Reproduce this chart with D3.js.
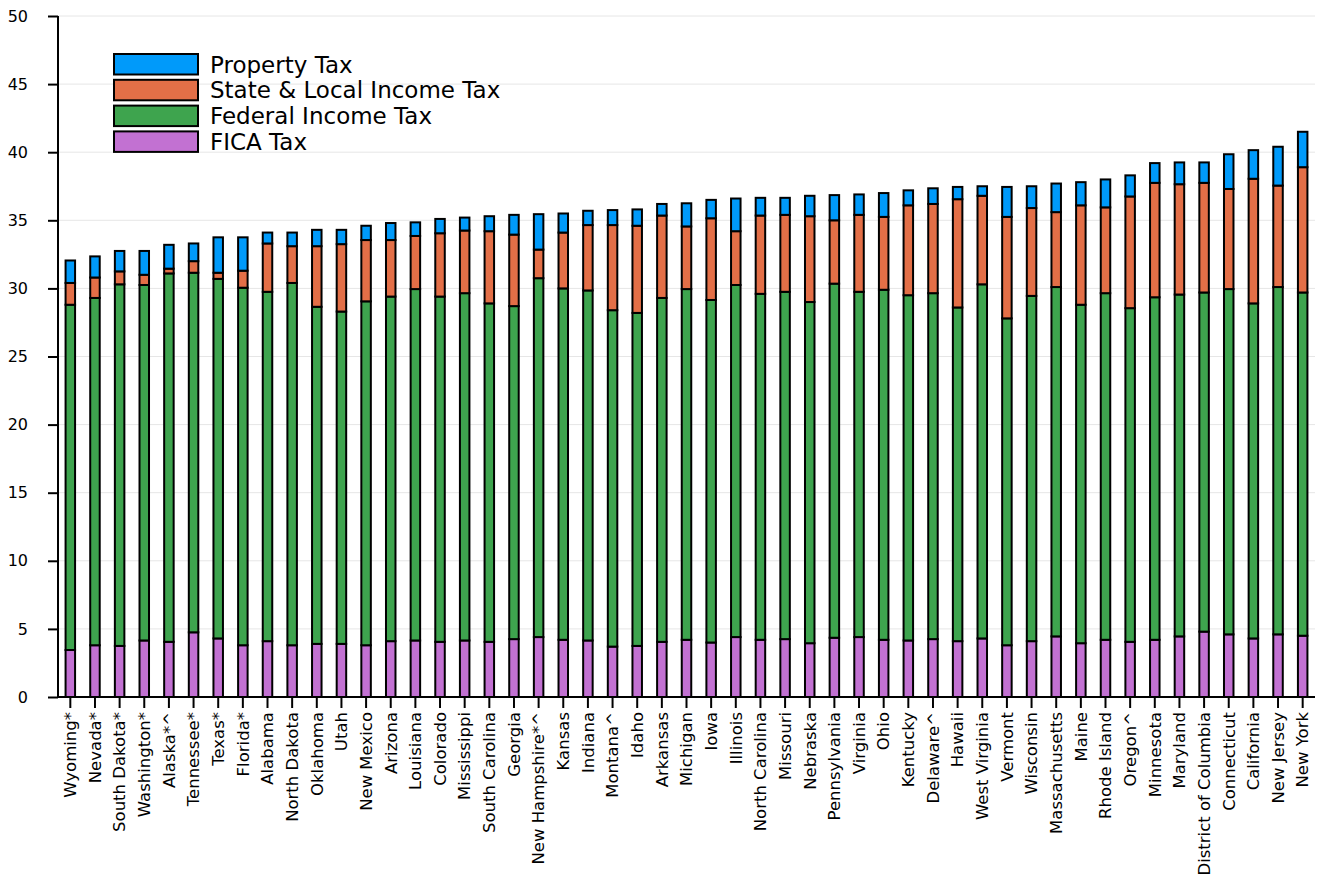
<!DOCTYPE html>
<html><head><meta charset="utf-8">
<script src="https://cdn.jsdelivr.net/npm/d3@7"></script>
<style>body{margin:0;background:#fff;} text{font-family:"DejaVu Sans",sans-serif;}</style>
</head><body><svg id="c" width="1320" height="879"></svg>
<script>
const states = ["Wyoming*","Nevada*","South Dakota*","Washington*","Alaska*^","Tennessee*","Texas*","Florida*","Alabama","North Dakota","Oklahoma","Utah","New Mexico","Arizona","Louisiana","Colorado","Mississippi","South Carolina","Georgia","New Hampshire*^","Kansas","Indiana","Montana^","Idaho","Arkansas","Michigan","Iowa","Illinois","North Carolina","Missouri","Nebraska","Pennsylvania","Virginia","Ohio","Kentucky","Delaware^","Hawaii","West Virginia","Vermont","Wisconsin","Massachusetts","Maine","Rhode Island","Oregon^","Minnesota","Maryland","District of Columbia","Connecticut","California","New Jersey","New York"];
const ficaTax = [3.45,3.8,3.75,4.15,4.05,4.75,4.3,3.8,4.1,3.8,3.9,3.9,3.8,4.1,4.15,4.05,4.15,4.05,4.25,4.4,4.2,4.15,3.7,3.75,4.05,4.2,4.0,4.4,4.2,4.25,3.95,4.35,4.4,4.2,4.15,4.25,4.1,4.3,3.8,4.1,4.45,3.95,4.2,4.05,4.2,4.45,4.8,4.6,4.3,4.6,4.5];
const federalIncomeTax = [25.35,25.5,26.55,26.1,27.05,26.4,26.4,26.25,25.65,26.6,24.75,24.4,25.25,25.3,25.8,25.35,25.5,24.85,24.45,26.35,25.8,25.7,24.7,24.45,25.25,25.75,25.15,25.85,25.4,25.5,25.05,26.0,25.35,25.7,25.35,25.4,24.5,26.0,24.0,25.35,25.65,24.85,25.45,24.5,25.15,25.1,24.9,25.35,24.6,25.5,25.2];
const stateLocalIncomeTax = [1.6,1.5,0.95,0.75,0.35,0.85,0.45,1.25,3.55,2.7,4.45,4.95,4.5,4.15,3.9,4.65,4.6,5.3,5.25,2.1,4.1,4.8,6.25,6.4,6.05,4.6,6.0,3.95,5.75,5.65,6.3,4.65,5.65,5.35,6.6,6.55,7.95,6.5,7.45,6.45,5.5,7.3,6.3,8.2,8.4,8.1,8.05,7.35,9.15,7.45,9.2];
const propertyTax = [1.65,1.55,1.5,1.75,1.75,1.3,2.6,2.45,0.8,1.0,1.2,1.05,1.05,1.25,1.0,1.05,0.95,1.1,1.45,2.6,1.4,1.05,1.1,1.2,0.85,1.7,1.35,2.4,1.3,1.25,1.5,1.85,1.5,1.75,1.1,1.15,0.9,0.7,2.2,1.6,2.1,1.7,2.05,1.55,1.45,1.6,1.5,2.55,2.1,2.85,2.6];
const seriesNames = ["FICA Tax","Federal Income Tax","State & Local Income Tax","Property Tax"];
const seriesColors = ["#c271d2","#3ea44e","#e36f47","#009afa"];
const yTicks = [0,5,10,15,20,25,30,35,40,45,50];

const rows = states.map((s,i)=>({state:s, "FICA Tax":ficaTax[i], "Federal Income Tax":federalIncomeTax[i], "State & Local Income Tax":stateLocalIncomeTax[i], "Property Tax":propertyTax[i]}));
const stacked = d3.stack().keys(seriesNames)(rows);

const svg = d3.select("#c");
const L=58, R=1315, T=16, B=697;
const x = d3.scaleBand().domain(states).range([L,R]);
const y = d3.scaleLinear().domain([0,50]).range([B,T]);
const bw = 9.5;

// grid
svg.append("g").selectAll("line").data(yTicks.filter(t=>t>0)).join("line")
  .attr("x1",L).attr("x2",R).attr("y1",d=>y(d)).attr("y2",d=>y(d))
  .attr("stroke","#e6e6e6").attr("stroke-width",1);

// bars
svg.append("g").selectAll("g").data(stacked).join("g")
  .attr("fill",(d,i)=>seriesColors[i])
  .selectAll("rect").data(d=>d).join("rect")
  .attr("x",d=>x(d.data.state)+x.bandwidth()/2-bw/2)
  .attr("width",bw)
  .attr("y",d=>y(d[1]))
  .attr("height",d=>y(d[0])-y(d[1]))
  .attr("stroke","#000").attr("stroke-width",2);

// y axis
const ya = svg.append("g").attr("transform",`translate(${L},0)`)
  .call(d3.axisLeft(y).tickValues(yTicks).tickSize(10).tickPadding(20).tickFormat(d3.format("d")));
ya.select(".domain").attr("stroke","#000").attr("stroke-width",2).attr("d",`M0,${B}V${T}`);
ya.selectAll(".tick line").attr("stroke","#000").attr("stroke-width",2);
ya.selectAll(".tick text").attr("font-size",16).attr("font-family","DejaVu Sans").attr("fill","#000");

// x axis
const xa = svg.append("g").attr("transform",`translate(0,${B})`)
  .call(d3.axisBottom(x).tickSize(11).tickSizeOuter(0));
xa.select(".domain").attr("stroke","#000").attr("stroke-width",2).attr("d",`M${L},0H${R}`);
xa.selectAll(".tick line").attr("stroke","#000").attr("stroke-width",2);
xa.selectAll(".tick text").attr("font-size",16.5).attr("font-family","DejaVu Sans").attr("fill","#000")
  .attr("transform","rotate(-90)").attr("text-anchor","end")
  .attr("x",-15).attr("y",0).attr("dy","0.35em");

// legend
const legOrder = [3,2,1,0];
const lg = svg.append("g");
legOrder.forEach((si,k)=>{
  const yy = 54 + k*25.8;
  lg.append("rect").attr("x",114).attr("y",yy).attr("width",84).attr("height",20.5)
    .attr("fill",seriesColors[si]).attr("stroke","#000").attr("stroke-width",2);
  lg.append("text").attr("x",210).attr("y",yy+10.5).attr("dy","0.35em")
    .attr("font-size",23).attr("fill","#000").text(seriesNames[si]);
});
</script></body></html>
